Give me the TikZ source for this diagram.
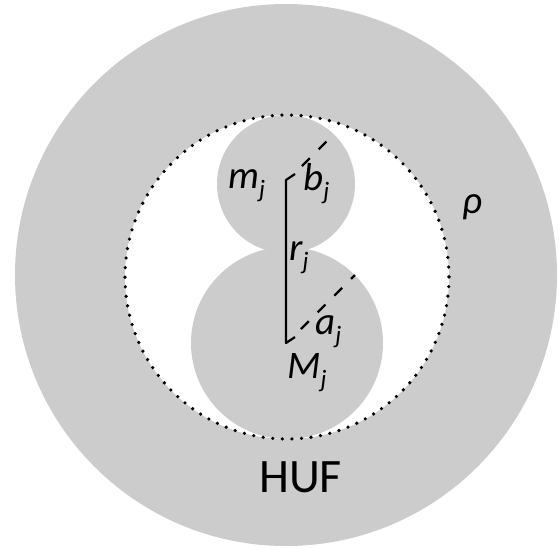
\documentclass[tikz,border=0pt]{standalone}
\usepackage{fontspec}
\setmainfont{Carlito}
\definecolor{discgray}{RGB}{204,204,204}
\newcommand\mylab[1]{\fontsize{39}{40}\selectfont\itshape #1\raisebox{-9pt}{\fontsize{25}{25}\selectfont j}}
\tikzset{
  disc/.style={fill=discgray, draw=none},
  lbl/.style={inner sep=0pt, anchor=base west},
  dashln/.style={line width=2.2pt, dash pattern=on 11pt off 12.6pt},
  solidln/.style={line width=2.2pt, line join=round},
}
\begin{document}
\begin{tikzpicture}[x=1pt,y=-1pt]
\useasboundingbox (0,0) rectangle (559,547);
% outer disc
\fill[disc] (286,275) circle[radius=271];
% inner white disc with dotted outline
\fill[white] (287,277) circle[radius=162];
% upper and lower discs
\fill[disc] (286,184) circle[radius=69];
\fill[disc] (287,343) circle[radius=96];
\draw[line width=3.6pt, line cap=round, dash pattern=on 0pt off 9.6pt] (287,277) circle[radius=162];
% coordinates
\coordinate (top) at (286,180);
\coordinate (bot) at (286,343);
\coordinate (toph) at (295,174);
\coordinate (both) at (295,337);
\coordinate (bs) at (302,166);
\coordinate (be) at (328,140);
\coordinate (as) at (301,329);
\coordinate (ae) at (355,275);
% radius line
\draw[solidln] (toph) -- (top) -- (bot) -- (both);
% dashed radii
\draw[dashln] (bs) -- (be);
\draw[dashln] (as) -- (ae);
% labels
\node[lbl] (mj) at (228,188) {\mylab{m}};
\node[lbl] (bj) at (303,190) {\mylab{b}};
\node[lbl] (rj) at (289,260) {\mylab{r}};
\node[lbl] (aj) at (315,334) {\mylab{a}};
\node[lbl] (Mj) at (287,378) {\mylab{M}};
\node[lbl] (rho) at (462,213) {\fontsize{39}{40}\selectfont\itshape ρ};
\node[lbl] (huf) at (259,492) {\fontsize{48}{50}\selectfont HUF};
\end{tikzpicture}
\end{document}
